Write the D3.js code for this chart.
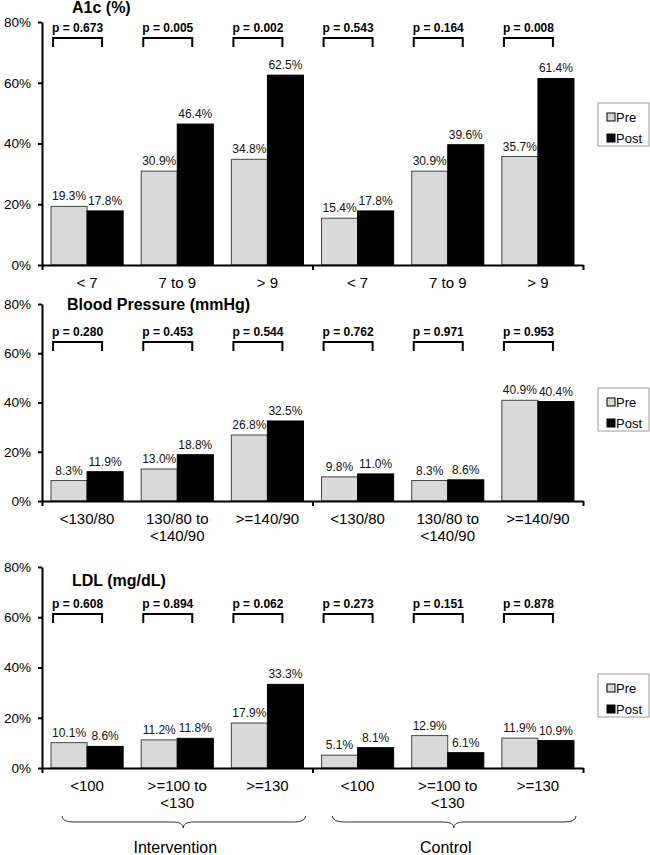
<!DOCTYPE html>
<html>
<head>
<meta charset="utf-8">
<script src="https://cdn.jsdelivr.net/npm/d3@7"></script>
<style>
  html, body { margin: 0; padding: 0; background: #fff; }
  svg { display: block; font-family: "Liberation Sans", Arial, sans-serif; }
</style>
</head>
<body>
<svg id="chart" width="650" height="855"></svg>
<script>
// ---------- data ----------
const seriesNames = ["Pre", "Post"];
const groupNames = ["Intervention", "Control"];
const yTickValues = [0, 20, 40, 60, 80];

const a1cTitle = "A1c (%)";
const a1cCats = ["< 7", "7 to 9", "> 9", "< 7", "7 to 9", "> 9"];
const a1cPre  = [19.3, 30.9, 34.8, 15.4, 30.9, 35.7];
const a1cPost = [17.8, 46.4, 62.5, 17.8, 39.6, 61.4];
const a1cP    = ["0.673", "0.005", "0.002", "0.543", "0.164", "0.008"];

const bpTitle = "Blood Pressure (mmHg)";
const bpCats = ["<130/80", "130/80 to|<140/90", ">=140/90", "<130/80", "130/80 to|<140/90", ">=140/90"];
const bpPre  = [8.3, 13.0, 26.8, 9.8, 8.3, 40.9];
const bpPost = [11.9, 18.8, 32.5, 11.0, 8.6, 40.4];
const bpP    = ["0.280", "0.453", "0.544", "0.762", "0.971", "0.953"];

const ldlTitle = "LDL (mg/dL)";
const ldlCats = ["<100", ">=100 to|<130", ">=130", "<100", ">=100 to|<130", ">=130"];
const ldlPre  = [10.1, 11.2, 17.9, 5.1, 12.9, 11.9];
const ldlPost = [8.6, 11.8, 33.3, 8.1, 6.1, 10.9];
const ldlP    = ["0.608", "0.894", "0.062", "0.273", "0.151", "0.878"];

// ---------- layout ----------
const FONT = '"Liberation Sans", Arial, sans-serif';
const X0 = 42, X1 = 583;
const panels = [
  { title: a1cTitle, titleX: 72, titleY: 13, cats: a1cCats, pre: a1cPre, post: a1cPost, p: a1cP,
    yBottom: 265, yTop: 22, pBase: 32, legendY: 103 },
  { title: bpTitle, titleX: 67, titleY: 310, cats: bpCats, pre: bpPre, post: bpPost, p: bpP,
    yBottom: 501, yTop: 304, pBase: 336, legendY: 388 },
  { title: ldlTitle, titleX: 72, titleY: 586, cats: ldlCats, pre: ldlPre, post: ldlPost, p: ldlP,
    yBottom: 768, yTop: 567, pBase: 608, legendY: 674 }
];

const svg = d3.select("#chart");
const preFill = "#d9d9d9", postFill = "#000";

const x = d3.scaleBand().domain(d3.range(6)).range([X0, X1]).paddingInner(0.2).paddingOuter(0.1);
const xs = d3.scaleBand().domain(seriesNames).range([0, x.bandwidth()]);
const xTicks = d3.scaleLinear().domain([0, 6]).range([X0, X1]);

panels.forEach(pn => {
  const g = svg.append("g");
  const y = d3.scaleLinear().domain([0, 80]).range([pn.yBottom, pn.yTop]);

  // title
  g.append("text").attr("x", pn.titleX).attr("y", pn.titleY)
    .attr("font-size", 16).attr("font-weight", "bold").text(pn.title);

  const rows = pn.cats.map((c, i) => ({ i, cat: c, vals: [
    { s: "Pre", v: pn.pre[i] }, { s: "Post", v: pn.post[i] }], p: pn.p[i] }));

  // bars
  const grp = g.selectAll("g.cat").data(rows).enter().append("g")
    .attr("transform", d => `translate(${x(d.i)},0)`);
  grp.selectAll("rect").data(d => d.vals).enter().append("rect")
    .attr("x", d => xs(d.s)).attr("width", xs.bandwidth())
    .attr("y", d => y(d.v)).attr("height", d => y(0) - y(d.v))
    .attr("fill", d => d.s === "Pre" ? preFill : postFill)
    .attr("stroke", d => d.s === "Pre" ? "#444" : "#000").attr("stroke-width", 1);
  grp.selectAll("text.val").data(d => d.vals).enter().append("text")
    .attr("class", "val")
    .attr("x", d => xs(d.s) + xs.bandwidth() / 2).attr("y", d => y(d.v) - 6)
    .attr("text-anchor", "middle").attr("font-size", 12).attr("fill", "#111")
    .text(d => d.v.toFixed(1) + "%");

  // p-values and brackets
  grp.append("text")
    .attr("x", x.bandwidth() / 2 - 9.5).attr("y", pn.pBase - y(0) + y(0))
    .attr("text-anchor", "middle").attr("font-size", 12).attr("font-weight", "bold")
    .text(d => "p = " + d.p);
  grp.append("path")
    .attr("d", () => {
      const cx = x.bandwidth() / 2 - 9.5, hw = 24.5, top = pn.pBase + 6, bot = pn.pBase + 15;
      return `M${cx - hw},${bot}V${top}H${cx + hw}V${bot}`;
    })
    .attr("fill", "none").attr("stroke", "#000").attr("stroke-width", 2);

  // category labels
  grp.append("text").attr("text-anchor", "middle").attr("font-size", 15)
    .attr("x", x.bandwidth() / 2)
    .selectAll("tspan").data(d => d.cat.split("|")).enter().append("tspan")
    .attr("x", x.bandwidth() / 2)
    .attr("y", (d, k) => y(0) + 23 + k * 17)
    .text(d => d);

  // y axis
  const ya = g.append("g").attr("transform", `translate(${X0},0)`)
    .call(d3.axisLeft(y).tickValues(yTickValues).tickFormat(d => d + "%").tickSize(4).tickSizeOuter(0).tickPadding(7));
  ya.select(".domain").attr("stroke-width", 2).attr("stroke", "#000");
  ya.selectAll(".tick line").attr("stroke-width", 2);
  ya.selectAll(".tick text").attr("font-size", 13.5).attr("font-family", FONT).attr("fill", "#000");

  // x axis
  const xa = g.append("g").attr("transform", `translate(0,${y(0)})`)
    .call(d3.axisBottom(xTicks).tickValues([0, 3, 6]).tickFormat("").tickSize(5).tickSizeOuter(0));
  xa.select(".domain").attr("stroke-width", 2).attr("stroke", "#000");
  xa.selectAll(".tick line").attr("stroke-width", 2);

  // legend
  const lg = g.append("g").attr("transform", `translate(598,${pn.legendY})`);
  lg.append("rect").attr("width", 51).attr("height", 43).attr("fill", "#fff").attr("stroke", "#999");
  seriesNames.forEach((s, k) => {
    const cy = 14 + k * 21;
    lg.append("rect").attr("x", 9).attr("y", cy - 4).attr("width", 8).attr("height", 8)
      .attr("fill", s === "Pre" ? preFill : postFill).attr("stroke", "#000");
    lg.append("text").attr("x", 18).attr("y", cy + 5).attr("font-size", 13).text(s);
  });
});

// group braces and labels
const braceY = 816;
groupNames.forEach((name, k) => {
  const a = xTicks(k * 3) + 20, b = xTicks(k * 3 + 3) - 7;
  const m = (xTicks(k * 3) + xTicks(k * 3 + 3)) / 2 + 6;
  const hy = braceY + 6, tip = braceY + 12;
  svg.append("path")
    .attr("d", `M${a},${braceY}Q${a},${hy} ${a + 12},${hy}L${m - 10},${hy}Q${m},${hy} ${m},${tip}Q${m},${hy} ${m + 10},${hy}L${b - 12},${hy}Q${b},${hy} ${b},${braceY}`)
    .attr("fill", "none").attr("stroke", "#333").attr("stroke-width", 1);
  svg.append("text").attr("x", m - 8).attr("y", 853).attr("text-anchor", "middle")
    .attr("font-size", 16).text(name);
});
</script>
</body>
</html>
